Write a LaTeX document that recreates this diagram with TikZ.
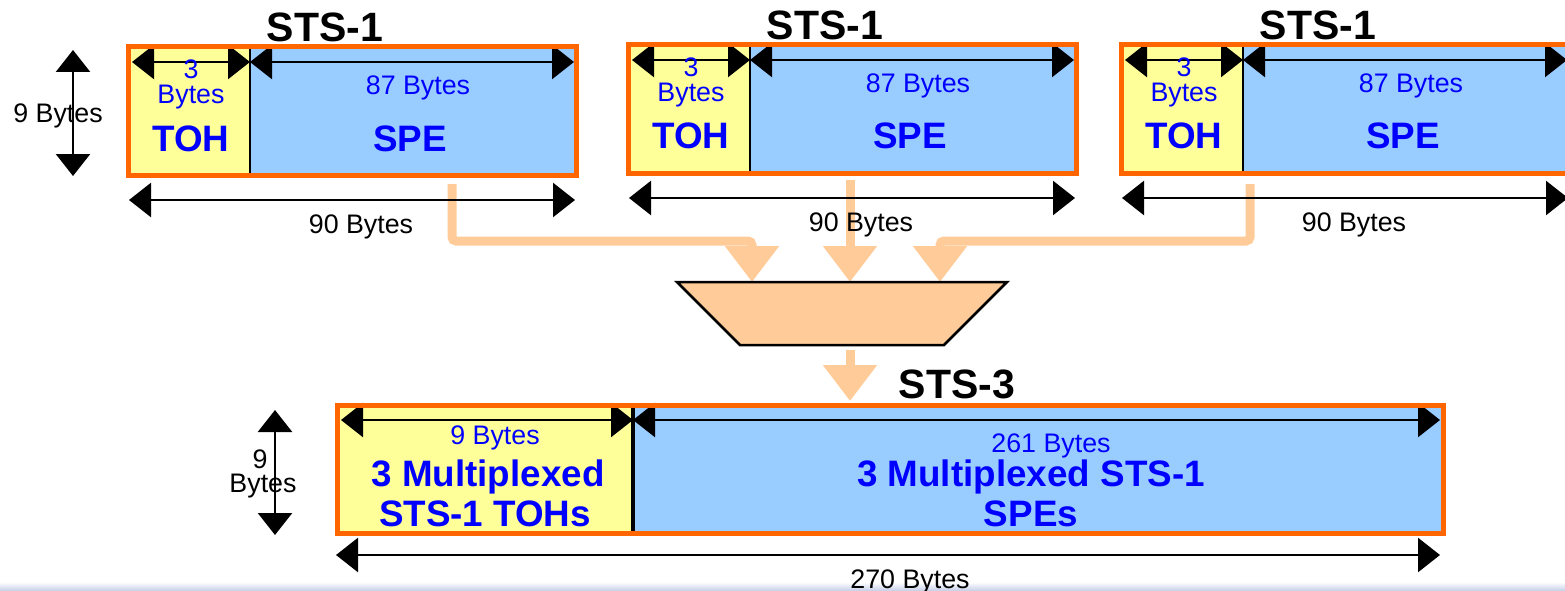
\documentclass[tikz,border=0pt]{standalone}
\usepackage{fontspec}
\setmainfont{Liberation Sans}
\usetikzlibrary{arrows.meta}
\definecolor{sonetorange}{HTML}{FF6600}
\definecolor{tohyellow}{HTML}{FFFF99}
\definecolor{speblue}{HTML}{99CCFF}
\definecolor{txtblue}{HTML}{0000FF}
\definecolor{peach}{HTML}{FFCC99}
\tikzset{
  every node/.style={inner sep=0pt, outer sep=0pt},
  tohbox/.style={fill=tohyellow, minimum width=#1, minimum height=128pt, anchor=north west},
  spebox/.style={fill=speblue, minimum width=#1, minimum height=128pt, anchor=north west},
  frameline/.style={draw=sonetorange, line width=5pt},
  divider/.style={draw=black, line width=2.5pt},
  dimarrow/.style={line width=2.5pt, {Triangle[length=22pt,width=34pt]}-{Triangle[length=22pt,width=34pt]}},
  feed/.style={draw=peach, line width=9pt, rounded corners=4pt, -{Triangle[length=36pt,width=52pt]}},
  lbl/.style={font=\fontsize{26.8}{28}\selectfont, anchor=base},
  bluelbl/.style={lbl, text=txtblue},
  bigblue/.style={font=\bfseries\fontsize{36.8}{38}\selectfont, text=txtblue, anchor=base},
  title/.style={font=\bfseries\fontsize{41}{42}\selectfont, anchor=base},
}
\newcommand{\stsoneframe}[3]{%
\begin{scope}[shift={(#1,#2)}]
  \node[tohbox=122pt] (toh#3) at (0,0) {};
  \node[spebox=326pt] (spe#3) at (122,0) {};
  \coordinate (ta#3) at (4,15);
  \coordinate (tb#3) at (122,15);
  \coordinate (tc#3) at (446,15);
  \draw[dimarrow] (ta#3) -- (tb#3);
  \draw[dimarrow] (tb#3) -- (tc#3);
  \draw[divider] (toh#3.north east) -- (toh#3.south east);
  \draw[frameline] (toh#3.north west) rectangle (spe#3.south east);
  \node[bluelbl] (three#3) at (63,32) {3};
  \node[bluelbl] (bytes#3) at (63,57) {Bytes};
  \node[bigblue] (tohlbl#3) at (63,104) {TOH};
  \node[bluelbl] (eightyseven#3) at (290,48) {87 Bytes};
  \node[bigblue] (spelbl#3) at (282,104) {SPE};
  \node[title] (ttl#3) at (197,-5) {STS-1};
  \coordinate (wa#3) at (1,153);
  \coordinate (wb#3) at (447,153);
  \draw[dimarrow] (wa#3) -- (wb#3);
  \node[lbl] (ninety#3) at (233,186) {90 Bytes};
\end{scope}}
\begin{document}
\begin{tikzpicture}[x=1pt, y=-1pt]
\useasboundingbox (0,0) rectangle (1565,591);
\shade[top color=white, bottom color={rgb,255:red,196;green,206;blue,232}] (0,582) rectangle (1565,591);

% feeds into the multiplexer (drawn first, under the black arrows)
\coordinate (s1) at (452,184);
\coordinate (k1) at (752,241);
\coordinate (m1) at (752,282);
\coordinate (s2) at (850,180);
\coordinate (m2) at (850,282);
\coordinate (s3) at (1250,184);
\coordinate (k3) at (940,241);
\coordinate (m3) at (940,282);
\draw[feed] (s1) |- (k1) -- (m1);
\draw[feed] (s2) -- (m2);
\draw[feed] (s3) |- (k3) -- (m3);

\stsoneframe{128}{47}{a}
\stsoneframe{628}{45}{b}
\stsoneframe{1121}{45}{c}

% 9 Bytes (top)
\node[lbl] (nineleft) at (58,122) {9 Bytes};
\coordinate (va) at (73,50);
\coordinate (vb) at (73,176);
\draw[dimarrow] (va) -- (vb);

% multiplexer
\draw[fill=peach, line width=2.5pt] (677,282) -- (1007,282) -- (944,345) -- (740,345) -- cycle;
\coordinate (mo) at (850,350);
\coordinate (mi) at (850,401);
\draw[feed] (mo) -- (mi);

\node[title] (sts3) at (957,398) {STS-3};

% STS-3 frame
\node[tohbox=296pt] (tohd) at (337,405) {};
\node[spebox=810pt] (sped) at (633,405) {};
\coordinate (da) at (341,420);
\coordinate (db) at (633,420);
\coordinate (dc) at (1440,420);
\draw[dimarrow] (da) -- (db);
\draw[dimarrow] (db) -- (dc);
\draw[divider, line width=3.5pt] (tohd.north east) -- (tohd.south east);
\draw[frameline] (tohd.north west) rectangle (sped.south east);

\node[bluelbl] (ninebytes) at (495,444) {9 Bytes};
\node[bigblue] (muxtoh1) at (488,486) {3 Multiplexed};
\node[bigblue] (muxtoh2) at (485,526) {STS-1 TOHs};
\node[bluelbl] (twosixtyone) at (1051,452) {261 Bytes};
\node[bigblue] (muxspe1) at (1031,486) {3 Multiplexed STS-1};
\node[bigblue] (muxspe2) at (1031,526) {SPEs};

\node[lbl] (ninebot) at (260,468) {9};
\node[lbl] (bytesbot) at (263,492) {Bytes};
\coordinate (ua) at (275,410);
\coordinate (ub) at (275,535);
\draw[dimarrow] (ua) -- (ub);

\coordinate (ba) at (336,555);
\coordinate (bb) at (1440,555);
\draw[dimarrow] (ba) -- (bb);
\node[lbl] (twoseventy) at (910,588) {270 Bytes};
\end{tikzpicture}
\end{document}
